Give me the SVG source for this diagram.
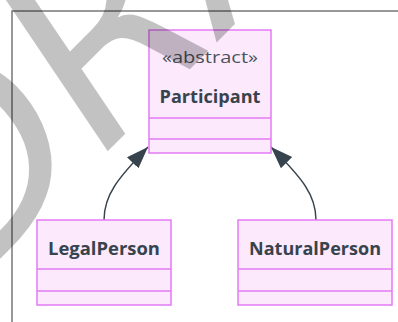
<svg xmlns="http://www.w3.org/2000/svg" width="398" height="322" viewBox="0 0 398 322">
  <style>
    .box { fill: #fce9fc; stroke: #e47af5; stroke-width: 1.5; }
    .div { stroke: #e47af5; stroke-width: 1.5; fill: none; }
    .lbl { font-family: "Open Sans", "Noto Sans", "Liberation Sans", sans-serif; fill: #37434d; text-anchor: middle; }
    .name { font-weight: bold; font-size: 18.5px; }
    .stereo { font-size: 16.5px; fill: #4a535c; }
    .edge { fill: none; stroke: #37434d; stroke-width: 1.4; }
    .frame { fill: none; stroke: #777777; stroke-width: 1.5; }
    .wm { font-family: "DejaVu Sans", sans-serif; font-style: oblique; font-size: 250px; fill: #000000; fill-opacity: 0.24; }
  </style>
  <defs>
    <marker id="inherit" markerWidth="24" markerHeight="18" refX="22" refY="8" orient="auto" markerUnits="userSpaceOnUse">
      <path d="M0,0 L22,8 L0,16 z" fill="#37434d"/>
    </marker>
  </defs>

  <rect x="0" y="0" width="398" height="322" fill="#ffffff"/>
  <rect class="frame" x="12" y="11" width="420" height="340"/>

  <g id="edges">
    <path class="edge" d="M104,220 C104,195 118,178 148,147" marker-end="url(#inherit)"/>
    <path class="edge" d="M316,220 C316,195 302,178 271,147" marker-end="url(#inherit)"/>
  </g>

  <g id="Participant">
    <rect class="box" x="149" y="30" width="122" height="123"/>
    <line class="div" x1="149" y1="118" x2="271" y2="118"/>
    <line class="div" x1="149" y1="139" x2="271" y2="139"/>
    <text class="lbl stereo" x="210" y="63" textLength="96" lengthAdjust="spacingAndGlyphs">«abstract»</text>
    <text class="lbl name" x="210" y="103" textLength="101" lengthAdjust="spacingAndGlyphs">Participant</text>
  </g>

  <g id="LegalPerson">
    <rect class="box" x="37" y="220" width="134" height="85"/>
    <line class="div" x1="37" y1="269" x2="171" y2="269"/>
    <line class="div" x1="37" y1="291" x2="171" y2="291"/>
    <text class="lbl name" x="104" y="255" textLength="112" lengthAdjust="spacingAndGlyphs">LegalPerson</text>
  </g>

  <g id="NaturalPerson">
    <rect class="box" x="238" y="220" width="154" height="85"/>
    <line class="div" x1="238" y1="269" x2="392" y2="269"/>
    <line class="div" x1="238" y1="291" x2="392" y2="291"/>
    <text class="lbl name" x="315" y="255" textLength="132" lengthAdjust="spacingAndGlyphs">NaturalPerson</text>
  </g>

  <!-- watermark laid over the drawing -->
  <text class="wm" x="-33" y="292" transform="rotate(-45 -33 292)">DRAFT</text>
</svg>
